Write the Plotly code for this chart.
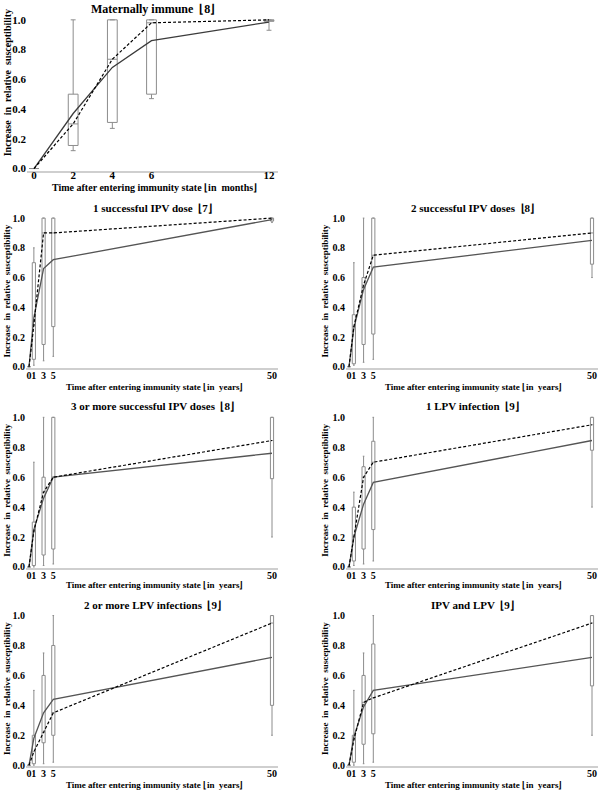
import plotly.graph_objects as go

# ---------------- data ----------------
months = [0, 2, 4, 6, 12]
mat_lo = [0, 0.12, 0.27, 0.47, 0.93]
mat_q1 = [0, 0.155, 0.31, 0.50, 0.99]
mat_q3 = [0, 0.50, 1.00, 1.00, 1.00]
mat_hi = [0, 1.00, 1.00, 1.00, 1.00]
mat_med = [0, 0.30, 0.735, 0.98, 1.00]
mat_mean = [0, 0.37, 0.68, 0.86, 0.985]

years = [0, 1, 3, 5, 50]

ipv1_lo = [0, 0.01, 0.04, 0.07, 0.97]
ipv1_q1 = [0, 0.05, 0.15, 0.27, 0.98]
ipv1_q3 = [0, 0.70, 1.00, 1.00, 1.00]
ipv1_hi = [0, 0.80, 1.00, 1.00, 1.00]
ipv1_med = [0, 0.28, 0.90, 0.90, 1.00]
ipv1_mean = [0, 0.33, 0.66, 0.72, 0.99]

ipv2_lo = [0, 0.01, 0.03, 0.05, 0.60]
ipv2_q1 = [0, 0.02, 0.15, 0.22, 0.69]
ipv2_q3 = [0, 0.35, 0.60, 1.00, 1.00]
ipv2_hi = [0, 0.70, 1.00, 1.00, 1.00]
ipv2_med = [0, 0.27, 0.55, 0.75, 0.90]
ipv2_mean = [0, 0.26, 0.52, 0.67, 0.85]

ipv3_lo = [0, 0.00, 0.01, 0.02, 0.20]
ipv3_q1 = [0, 0.01, 0.08, 0.12, 0.59]
ipv3_q3 = [0, 0.30, 0.60, 1.00, 1.00]
ipv3_hi = [0, 0.70, 1.00, 1.00, 1.00]
ipv3_med = [0, 0.24, 0.50, 0.60, 0.845]
ipv3_mean = [0, 0.25, 0.46, 0.60, 0.76]

lpv1_lo = [0, 0.01, 0.02, 0.04, 0.40]
lpv1_q1 = [0, 0.04, 0.12, 0.25, 0.78]
lpv1_q3 = [0, 0.40, 0.67, 0.84, 1.00]
lpv1_hi = [0, 0.50, 0.74, 1.00, 1.00]
lpv1_med = [0, 0.20, 0.60, 0.70, 0.95]
lpv1_mean = [0, 0.20, 0.42, 0.565, 0.845]

lpv2_lo = [0, 0.00, 0.01, 0.02, 0.20]
lpv2_q1 = [0, 0.01, 0.15, 0.20, 0.40]
lpv2_q3 = [0, 0.20, 0.60, 0.80, 1.00]
lpv2_hi = [0, 0.50, 0.75, 1.00, 1.00]
lpv2_med = [0, 0.09, 0.22, 0.35, 0.95]
lpv2_mean = [0, 0.18, 0.35, 0.44, 0.72]

mix_lo = [0, 0.00, 0.01, 0.02, 0.20]
mix_q1 = [0, 0.02, 0.14, 0.21, 0.53]
mix_q3 = [0, 0.20, 0.60, 0.81, 1.00]
mix_hi = [0, 0.50, 0.75, 1.00, 1.00]
mix_med = [0, 0.17, 0.42, 0.45, 0.95]
mix_mean = [0, 0.19, 0.39, 0.50, 0.72]

titles = [
    "Maternally immune  \u230a8\u230b",
    "1 successful IPV dose  \u230a7\u230b",
    "2 successful IPV doses  \u230a8\u230b",
    "3 or more successful IPV doses  \u230a8\u230b",
    "1 LPV infection  \u230a9\u230b",
    "2 or more LPV infections  \u230a9\u230b",
    "IPV and LPV  \u230a9\u230b",
]
y_ticks = [0, 0.2, 0.4, 0.6, 0.8, 1.0]
y_ticktext = ["0.0", "0.2", "0.4", "0.6", "0.8", "1.0"]
ytitle = "Increase\u00a0 in\u00a0 relative\u00a0 susceptibility"
xtitle_m = "Time after entering immunity state \u230ain\u00a0 months\u230b"
xtitle_y = "Time after entering immunity state \u230ain\u00a0 years\u230b"

panels = [
    (months, mat_lo, mat_q1, mat_q3, mat_hi, mat_med, mat_mean),
    (years, ipv1_lo, ipv1_q1, ipv1_q3, ipv1_hi, ipv1_med, ipv1_mean),
    (years, ipv2_lo, ipv2_q1, ipv2_q3, ipv2_hi, ipv2_med, ipv2_mean),
    (years, ipv3_lo, ipv3_q1, ipv3_q3, ipv3_hi, ipv3_med, ipv3_mean),
    (years, lpv1_lo, lpv1_q1, lpv1_q3, lpv1_hi, lpv1_med, lpv1_mean),
    (years, lpv2_lo, lpv2_q1, lpv2_q3, lpv2_hi, lpv2_med, lpv2_mean),
    (years, mix_lo, mix_q1, mix_q3, mix_hi, mix_med, mix_mean),
]

# ---------------- layout geometry (pixels) ----------------
W, H = 599, 795
FONT = "Liberation Serif, Times New Roman, serif"
# (left, right, top, bottom) in px
boxes_px = [
    (27, 278, 13.5, 170),
    (26, 278, 213, 369),
    (346, 598, 213, 369),
    (26, 278, 414, 571),
    (346, 598, 414, 571),
    (26, 278, 614, 771),
    (346, 598, 614, 771),
]
y01 = [(168, 18), (368, 218), (368, 218), (570, 419), (570, 419), (770, 619), (770, 619)]
x0max = [(34, 269, 12), (29, 272, 50), (349, 592, 50), (29, 272, 50), (349, 592, 50), (29, 272, 50), (349, 592, 50)]

fig = go.Figure()
layout = dict(
    width=W, height=H, margin=dict(l=0, r=0, t=0, b=0),
    paper_bgcolor="white", plot_bgcolor="white", showlegend=False,
    font=dict(family=FONT, size=10, color="black", weight="bold"),
    annotations=[],
)

for i, (xs, lo, q1, q3, hi, med, mean) in enumerate(panels):
    n = i + 1
    xa = "x" if n == 1 else f"x{n}"
    ya = "y" if n == 1 else f"y{n}"
    top = i == 0
    bw = 0.5 if top else 0.65
    fig.add_trace(go.Box(
        x=xs, q1=q1, median=med, q3=q3, lowerfence=lo, upperfence=hi,
        width=bw, whiskerwidth=0.5, boxpoints=False,
        line=dict(color="#8c8c8c", width=1), fillcolor="white",
        xaxis=xa, yaxis=ya, hoverinfo="skip",
    ))
    fig.add_trace(go.Scatter(
        x=xs, y=mean, mode="lines",
        line=dict(color="#3c3c3c" if top else "#555555", width=1.3),
        xaxis=xa, yaxis=ya,
    ))
    fig.add_trace(go.Scatter(
        x=xs, y=med, mode="lines",
        line=dict(color="black", width=1.2, dash="3px,2px"),
        xaxis=xa, yaxis=ya,
    ))

    L, R, T, B = boxes_px[i]
    yz, y1 = y01[i]
    ppu_y = yz - y1
    yr = [-(B - yz) / ppu_y, 1 + (y1 - T) / ppu_y]
    xz, xm, vmax = x0max[i]
    ppu_x = (xm - xz) / vmax
    xr = [(L - xz) / ppu_x, (R - xz) / ppu_x]

    tsize = 11 if top else 10
    xkey = "xaxis" if n == 1 else f"xaxis{n}"
    ykey = "yaxis" if n == 1 else f"yaxis{n}"
    layout[xkey] = dict(
        domain=[L / W, R / W], range=xr, anchor=ya,
        showline=True, linecolor="#cfcfcf", linewidth=2,
        showgrid=False, zeroline=False, ticks="", tickangle=0,
        ticklabelstandoff=-7 if top else -3,
        tickvals=xs, ticktext=[str(v) for v in xs],
        tickfont=dict(family=FONT, size=tsize, color="black", weight="bold"),
    )
    layout[ykey] = dict(
        domain=[1 - B / H, 1 - T / H], range=yr, anchor=xa,
        showline=False, showgrid=False, zeroline=False, ticks="",
        tickvals=y_ticks, ticktext=y_ticktext,
        tickfont=dict(family=FONT, size=tsize, color="black", weight="bold"),
    )

    cx = (L + R) / 2
    title_y = [7, 208, 208, 408, 408, 608, 608][i]
    xt_y = [187, 388, 388, 588, 588, 790, 790][i]
    yl_x = 7 if L < 100 else 325
    yl_y = [82, 292, 292, 493, 493, 693, 693][i]
    layout["annotations"].append(dict(
        text=titles[i], x=cx / W, y=1 - title_y / H, xref="paper", yref="paper",
        xanchor="center", yanchor="middle", showarrow=False,
        font=dict(family=FONT, size=12 if top else 11, color="black", weight="bold"),
    ))
    layout["annotations"].append(dict(
        text=xtitle_m if top else xtitle_y, x=(cx + 2) / W, y=1 - xt_y / H,
        xref="paper", yref="paper", xanchor="center", yanchor="middle", showarrow=False,
        font=dict(family=FONT, size=10 if top else 9, color="black", weight="bold"),
    ))
    layout["annotations"].append(dict(
        text=ytitle, x=yl_x / W, y=1 - yl_y / H, xref="paper", yref="paper",
        xanchor="center", yanchor="middle", showarrow=False, textangle=-90,
        font=dict(family=FONT, size=10 if top else 9, color="black", weight="bold"),
    ))

fig.update_layout(**layout)
fig.write_html(
    "out.html",
    config={"displayModeBar": False},
    post_script="document.body.style.margin='0';document.body.style.padding='0';",
)
